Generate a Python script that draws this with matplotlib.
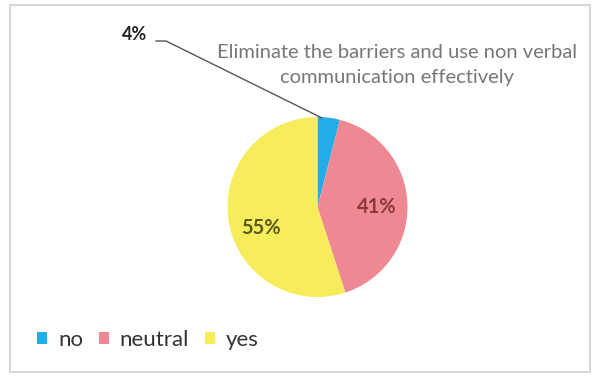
import matplotlib
matplotlib.use("Agg")
import matplotlib.pyplot as plt
from matplotlib.patches import Rectangle, Patch
from matplotlib.lines import Line2D

categories = ["no", "neutral", "yes"]
values = [4, 41, 55]
labels = ["4%", "41%", "55%"]
colors = ["#22ACE8", "#EE8893", "#F7EC5C"]
label_colors = ["#333333", "#8B3A3A", "#5A5A1E"]
title = "Eliminate the barriers and use non verbal\ncommunication effectively"

plt.rcParams['font.family'] = ['Lato', 'DejaVu Sans']
fig = plt.figure(figsize=(5.99, 3.78), dpi=100)
fig.patch.set_facecolor("white")

# frame
fig.add_artist(Rectangle((10/599, 1-372/378), 580/599, 367/378, transform=fig.transFigure,
                         fill=False, edgecolor="#D0D0D0", linewidth=1.2))

ax = fig.add_axes([227/599, 1-297/378, 181/599, 180/378])
wedges, _ = ax.pie(values, colors=colors, startangle=90, counterclock=False,
                   wedgeprops=dict(linewidth=0))
ax.set_xlim(-1, 1)
ax.set_ylim(-1, 1)
ax.set_aspect("equal")

ax.text(0.66, 0.0, labels[1], ha="center", va="center", fontsize=14.5, color=label_colors[1], weight="bold")
ax.text(-0.63, -0.23, labels[2], ha="center", va="center", fontsize=14.5, color=label_colors[2], weight="bold")

# outside label for "no" with leader line
fig.text(135/599, 1-35/378, labels[0], ha="center", va="center", fontsize=13,
         color="#222222", weight="bold")
lx = [156/599, 166/599, 322/599]
ly = [1-41/378, 1-41/378, 1-118/378]
fig.add_artist(Line2D(lx, ly, transform=fig.transFigure, color="#555555", lw=1))

fig.text(397/599, 1-65/378, title, ha="center", va="center", fontsize=14.5,
         color="#777777", linespacing=1.5)

handles = [Patch(facecolor=c, edgecolor="none") for c in colors]
fig.legend(handles, categories, loc="center left", bbox_to_anchor=(37/599, 1-340/378),
           ncol=3, frameon=False, fontsize=16, handlelength=0.45, handleheight=0.45,
           handletextpad=0.5, columnspacing=0.7, labelcolor="#333333",
           borderpad=0, borderaxespad=0)

fig.savefig("out.png", dpi=100)
